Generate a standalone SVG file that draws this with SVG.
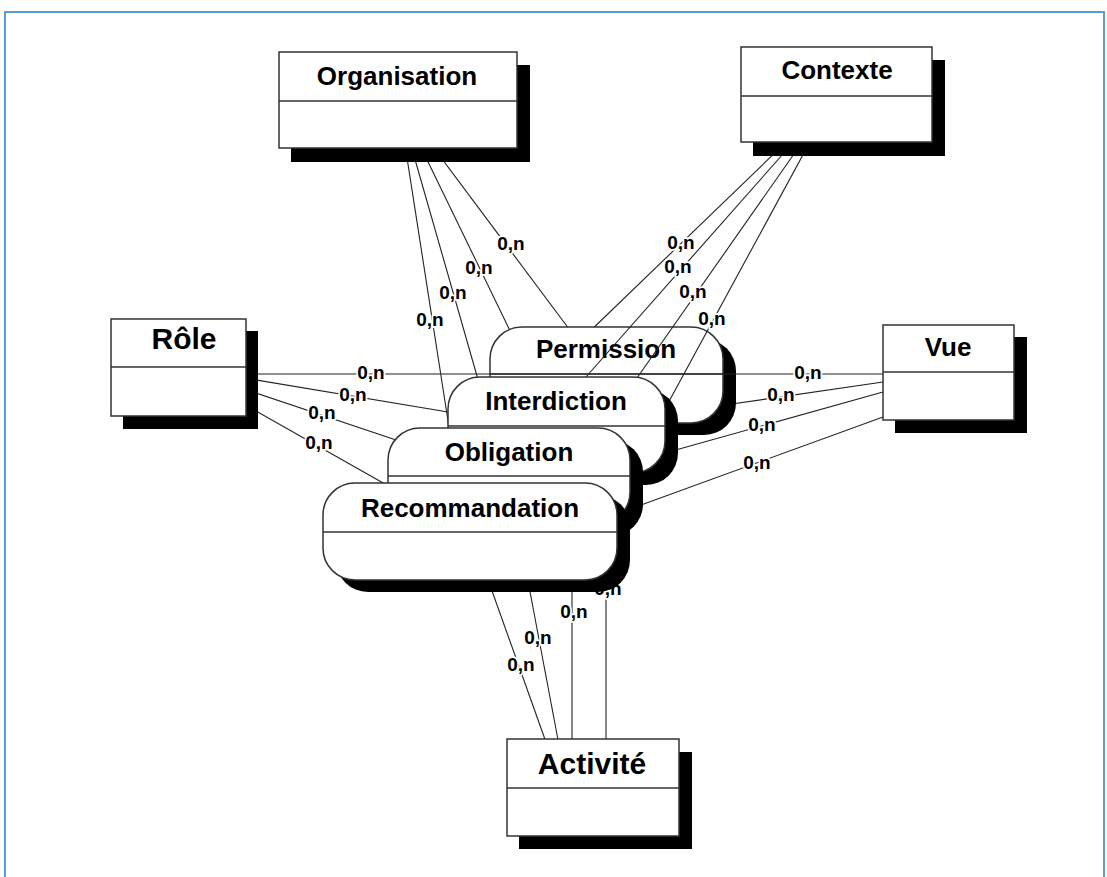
<svg xmlns="http://www.w3.org/2000/svg" width="1107" height="877" viewBox="0 0 1107 877">
  <style>
    .frame { fill: none; stroke: #5b9bd5; stroke-width: 2; }
    .shadow { fill: #000; }
    .box { fill: #fff; stroke: #333; stroke-width: 1.5; }
    .sep { stroke: #333; stroke-width: 1.5; }
    .ln { fill: none; stroke: #222; stroke-width: 1.1; }
    .title { font-family: "Liberation Sans", Arial, sans-serif; font-weight: bold; font-size: 26px; text-anchor: middle; fill: #000; }
    .big { font-size: 30px; }
    .card { font-family: "Liberation Sans", Arial, sans-serif; font-weight: bold; font-size: 19px; text-anchor: middle; fill: #000; stroke: #fff; stroke-width: 3.5; stroke-linejoin: round; paint-order: stroke; }
  </style>

  <!-- page frame -->
  <path class="frame" d="M5 877 V12 H1104 V877"/>

  <!-- connectors lying beneath every association -->
  <g id="connectors-back">
    <g class="ln">
      <line x1="398" y1="100" x2="575" y2="337"/>
      <line x1="398" y1="100" x2="516" y2="343"/>
      <line x1="398" y1="100" x2="481" y2="390"/>
      <line x1="398" y1="100" x2="451" y2="440"/>
      <line x1="836" y1="94" x2="585" y2="336"/>
      <line x1="178" y1="367" x2="460" y2="414"/>
      <line x1="178" y1="367" x2="408" y2="444"/>
      <line x1="178" y1="367" x2="392" y2="488"/>
      <line x1="883" y1="382" x2="725" y2="405"/>
      <line x1="883" y1="392" x2="665" y2="453"/>
      <line x1="883" y1="417" x2="630" y2="509"/>
      <line x1="481" y1="560" x2="547" y2="745"/>
      <line x1="524" y1="560" x2="559" y2="745"/>
      <line x1="572" y1="560" x2="572" y2="745"/>
      <line x1="606" y1="560" x2="606" y2="745"/>
    </g>
    <g class="card">
      <text x="511" y="250">0,n</text>
      <text x="479" y="274">0,n</text>
      <text x="453" y="299">0,n</text>
      <text x="430" y="326">0,n</text>
      <text x="681" y="249">0,n</text>
      <text x="353" y="401">0,n</text>
      <text x="322" y="419">0,n</text>
      <text x="319" y="449">0,n</text>
      <text x="781" y="401">0,n</text>
      <text x="762" y="431">0,n</text>
      <text x="757" y="469">0,n</text>
      <text x="521" y="671">0,n</text>
      <text x="538" y="644">0,n</text>
      <text x="574" y="618">0,n</text>
      <text x="608" y="595">0,n</text>
    </g>
  </g>

  <g id="permission">
    <rect class="shadow" x="503" y="339" width="233" height="96" rx="32"/>
    <rect class="box" x="490" y="327" width="233" height="96" rx="32"/>
    <line class="sep" x1="490" y1="374" x2="723" y2="374"/>
    <text class="title" x="606" y="358">Permission</text>
  </g>

  <!-- connectors crossing over Permission -->
  <g id="connectors-front">
    <g class="ln">
      <line x1="246" y1="374" x2="883" y2="374"/>
      <line x1="836" y1="94" x2="578" y2="386"/>
      <line x1="836" y1="94" x2="630" y2="388"/>
      <line x1="836" y1="94" x2="660" y2="418"/>
    </g>
    <g class="card">
      <text x="371" y="379">0,n</text>
      <text x="808" y="379">0,n</text>
      <text x="678" y="273">0,n</text>
      <text x="693" y="298">0,n</text>
      <text x="712" y="325">0,n</text>
    </g>
  </g>

  <g id="interdiction">
    <rect class="shadow" x="461" y="389" width="217" height="96" rx="32"/>
    <rect class="box" x="448" y="377" width="217" height="96" rx="32"/>
    <line class="sep" x1="448" y1="426" x2="665" y2="426"/>
    <text class="title" x="556" y="410">Interdiction</text>
  </g>

  <g id="obligation">
    <rect class="shadow" x="401" y="440" width="242" height="96" rx="32"/>
    <rect class="box" x="388" y="428" width="242" height="96" rx="32"/>
    <line class="sep" x1="388" y1="476" x2="630" y2="476"/>
    <text class="title" x="509" y="461">Obligation</text>
  </g>

  <g id="recommandation">
    <rect class="shadow" x="336" y="495" width="294" height="97" rx="32"/>
    <rect class="box" x="323" y="483" width="294" height="97" rx="32"/>
    <line class="sep" x1="323" y1="532" x2="617" y2="532"/>
    <text class="title" x="470" y="517">Recommandation</text>
  </g>

  <g id="organisation">
    <rect class="shadow" x="291" y="65" width="239" height="97"/>
    <rect class="box" x="279" y="52" width="238" height="96"/>
    <line class="sep" x1="279" y1="101" x2="517" y2="101"/>
    <text class="title" x="397" y="85">Organisation</text>
  </g>

  <g id="contexte">
    <rect class="shadow" x="753" y="60" width="192" height="96"/>
    <rect class="box" x="741" y="47" width="191" height="95"/>
    <line class="sep" x1="741" y1="96" x2="932" y2="96"/>
    <text class="title" x="837" y="79">Contexte</text>
  </g>

  <g id="role">
    <rect class="shadow" x="123" y="331" width="135" height="98"/>
    <rect class="box" x="111" y="319" width="135" height="97"/>
    <line class="sep" x1="111" y1="367" x2="246" y2="367"/>
    <text class="title big" x="184" y="349">Rôle</text>
  </g>

  <g id="vue">
    <rect class="shadow" x="895" y="337" width="132" height="96"/>
    <rect class="box" x="883" y="325" width="131" height="95"/>
    <line class="sep" x1="883" y1="372" x2="1014" y2="372"/>
    <text class="title" x="948" y="356">Vue</text>
  </g>

  <g id="activite">
    <rect class="shadow" x="519" y="752" width="173" height="97"/>
    <rect class="box" x="507" y="739" width="172" height="97"/>
    <line class="sep" x1="507" y1="788" x2="679" y2="788"/>
    <text class="title big" x="592" y="774">Activité</text>
  </g>
</svg>
